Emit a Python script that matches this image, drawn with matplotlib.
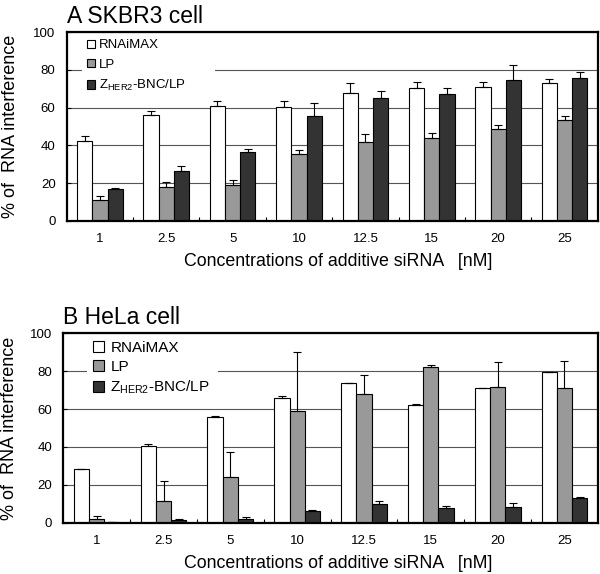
import numpy as np
import matplotlib
matplotlib.use('Agg')
import matplotlib.pyplot as plt
from matplotlib.patches import Patch

plt.rcParams['font.family'] = ['Liberation Sans', 'DejaVu Sans']
plt.rcParams['mathtext.default'] = 'regular'

conc = ['1', '2.5', '5', '10', '12.5', '15', '20', '25']
series = ['RNAiMAX', 'LP', r'Z$_{HER2}$-BNC/LP']
colors = ['white', '#999999', '#333333']

# panel A (SKBR3)
a_rnai = [42.4, 56.0, 61.1, 60.6, 68.0, 70.5, 71.2, 73.0]
a_rnai_err = [2.5, 2.3, 2.7, 2.7, 5.0, 3.0, 2.3, 2.3]
a_lp = [11.1, 17.8, 19.1, 35.2, 41.7, 43.8, 48.6, 53.4]
a_lp_err = [1.8, 2.5, 2.3, 2.3, 4.2, 3.0, 2.3, 2.4]
a_z = [16.8, 26.5, 36.4, 55.8, 65.0, 67.5, 74.7, 76.0]
a_z_err = [0.5, 2.5, 1.8, 6.9, 3.7, 2.8, 8.0, 3.0]

# panel B (HeLa)
b_rnai = [28.5, 40.5, 55.9, 65.7, 73.5, 61.9, 71.2, 79.3]
b_rnai_err = [0.0, 1.3, 0.6, 1.4, 0.0, 0.6, 0.0, 0.3]
b_lp = [2.1, 11.3, 24.2, 58.9, 68.1, 82.3, 71.7, 71.2]
b_lp_err = [1.4, 10.5, 13.0, 31.0, 9.8, 1.1, 13.1, 14.3]
b_z = [0.3, 1.6, 2.1, 6.0, 10.1, 7.6, 8.3, 13.1]
b_z_err = [0.0, 0.5, 1.1, 0.5, 1.2, 1.2, 2.3, 0.5]

fig = plt.figure(figsize=(6.0, 5.74), dpi=100)
axA = fig.add_axes([0.1112, 0.6155, 0.885, 0.3282])
axB = fig.add_axes([0.1055, 0.0894, 0.891, 0.330])

w = 0.229
x = np.arange(len(conc))


def panel(ax, title, vals, errs, leg_fs, leg_box, hl, htp, lsp, xl_x, yl_x):
    for k, (v, e) in enumerate(zip(vals, errs)):
        pos = x + (k - 1) * w
        ax.bar(pos, v, w, color=colors[k], edgecolor='black', linewidth=0.8, zorder=2)
        ax.errorbar(pos, v, yerr=[np.zeros(len(e)), e], fmt='none', ecolor='black',
                    elinewidth=0.8, capsize=3, capthick=0.8, zorder=3)
    ax.set_xlim(-0.5, len(conc) - 0.5)
    ax.set_ylim(0, 100)
    ax.set_yticks(np.arange(0, 101, 20))
    ax.set_xticks(x)
    ax.set_xticklabels(conc)
    ax.set_xticks(x[:-1] + 0.5, minor=True)
    ax.tick_params(axis='x', which='major', length=0, pad=9, labelsize=9.5)
    ax.tick_params(axis='x', which='minor', direction='in', length=3, width=0.8)
    ax.tick_params(axis='y', direction='in', length=3, width=0.8, pad=8, labelsize=9.5)
    ax.yaxis.grid(True, color='#555555', linewidth=0.8)
    ax.set_axisbelow(True)
    for s in ax.spines.values():
        s.set_linewidth(1.6)
    ax.set_title(title, loc='left', fontsize=16.5, pad=7)
    ax.set_xlabel('Concentrations of additive siRNA   [nM]', fontsize=12.8)
    ax.xaxis.set_label_coords(xl_x, -0.17)
    ax.set_ylabel('% of  RNA interference', fontsize=13)
    ax.yaxis.set_label_coords(yl_x, 0.5)
    handles = [Patch(facecolor=c, edgecolor='black', linewidth=0.8) for c in colors]
    leg = ax.legend(handles, series, loc='upper left', bbox_to_anchor=leg_box, mode='expand',
                    fontsize=leg_fs, frameon=True, facecolor='white', edgecolor='none',
                    framealpha=1, fancybox=False, borderaxespad=0, borderpad=0.4,
                    labelspacing=lsp, handlelength=hl, handleheight=hl, handletextpad=htp)
    leg.set_zorder(2.4)


panel(axA, 'A SKBR3 cell', [a_rnai, a_lp, a_z], [a_rnai_err, a_lp_err, a_z_err],
      9.5, (0.029, 0.0, 0.25, 0.99), 0.6, 0.3, 0.55, 0.511, -0.09)
panel(axB, 'B HeLa cell', [b_rnai, b_lp, b_z], [b_rnai_err, b_lp_err, b_z_err],
      11, (0.044, 0.0, 0.245, 0.99), 0.72, 0.42, 0.3, 0.514, -0.085)

fig.savefig('out.png', dpi=100)
